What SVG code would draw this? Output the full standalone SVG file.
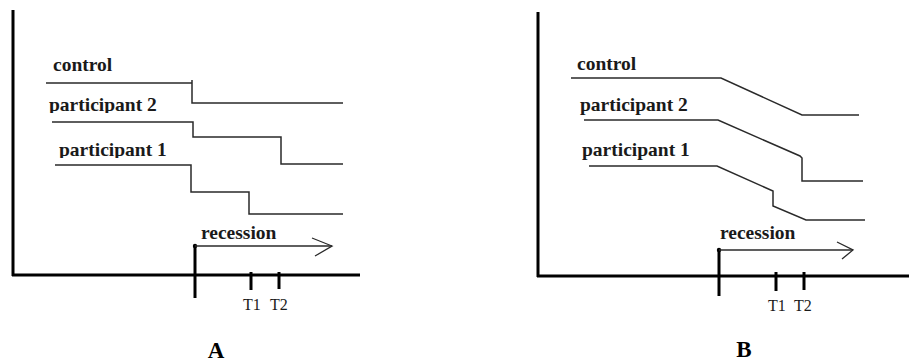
<svg xmlns="http://www.w3.org/2000/svg" width="909" height="362" viewBox="0 0 909 362">
  <style>
    .axis { fill: none; stroke: #000; stroke-width: 3; }
    .tick { fill: none; stroke: #000; stroke-width: 3; }
    .trace { fill: none; stroke: #2a2a2a; stroke-width: 1.5; }
    .arrow { fill: none; stroke: #2a2a2a; stroke-width: 1.3; }
    .lbl { font-family: "Liberation Serif", "DejaVu Serif", serif; font-size: 19.5px; font-weight: bold; fill: #1a1a1a; }
    .tlbl { font-family: "Liberation Serif", "DejaVu Serif", serif; font-size: 16px; fill: #1a1a1a; }
    .title { font-family: "Liberation Serif", "DejaVu Serif", serif; font-size: 23px; font-weight: bold; fill: #000; text-anchor: middle; }
  </style>
  <defs>
    <clipPath id="clipP2A"><rect x="40" y="90" width="140" height="23"/></clipPath>
    <clipPath id="clipP1A"><rect x="40" y="135" width="140" height="23"/></clipPath>
  </defs>
  <rect width="909" height="362" fill="#fff"/>

  <!-- Panel A: step-wise drops -->
  <g id="panelA">
    <g id="axesA">
      <path class="axis" d="M13,10 V276"/>
      <path class="axis" d="M12,275 H360"/>
      <path class="tick" d="M195,246 V298"/>
      <path class="tick" d="M251,272 V290"/>
      <path class="tick" d="M279,272 V289"/>
    </g>
    <g id="tracesA">
      <path id="controlA" class="trace" d="M46,83 H192 M192,80 V103 H343"/>
      <path id="p2A" class="trace" d="M52,122 H193 V137 H281 V164 H343"/>
      <path id="p1A" class="trace" d="M55,165 H191 V192 H249 V214 H343"/>
      <circle cx="195" cy="246" r="2.2" fill="#000"/>
      <path class="arrow" d="M195,246 H332"/>
      <path class="arrow" d="M312,238 L332,246 L315,256"/>
    </g>
    <g id="labelsA">
      <text class="lbl" x="53" y="71">control</text>
      <text class="lbl" x="49" y="111" clip-path="url(#clipP2A)">participant 2</text>
      <text class="lbl" x="59" y="156" clip-path="url(#clipP1A)">participant 1</text>
      <text class="lbl" x="201" y="239">recession</text>
      <text class="tlbl" x="243" y="310">T1</text>
      <text class="tlbl" x="270" y="310">T2</text>
      <text class="title" x="216" y="358">A</text>
    </g>
  </g>

  <!-- Panel B: gradual declines -->
  <g id="panelB">
    <g id="axesB">
      <path class="axis" d="M538,12 V277"/>
      <path class="axis" d="M537,276 H909"/>
      <path class="tick" d="M719,250 V296"/>
      <path class="tick" d="M776,272 V291"/>
      <path class="tick" d="M804,272 V290"/>
    </g>
    <g id="tracesB">
      <path id="controlB" class="trace" d="M571,78 H721 L802,115 H859"/>
      <path id="p2B" class="trace" d="M584,120 H718 L800,156 L802,158 V181 H863"/>
      <path id="p1B" class="trace" d="M589,166 H717 L773,191 V206 L806,220 H865"/>
      <circle cx="719" cy="250" r="2.2" fill="#000"/>
      <path class="arrow" d="M719,250 H853"/>
      <path class="arrow" d="M837,242 L853,250 L842,259"/>
    </g>
    <g id="labelsB">
      <text class="lbl" x="577" y="70">control</text>
      <text class="lbl" x="580" y="111">participant 2</text>
      <text class="lbl" x="582" y="156">participant 1</text>
      <text class="lbl" x="720" y="239">recession</text>
      <text class="tlbl" x="768" y="311">T1</text>
      <text class="tlbl" x="794" y="311">T2</text>
      <text class="title" x="744" y="357">B</text>
    </g>
  </g>
</svg>
